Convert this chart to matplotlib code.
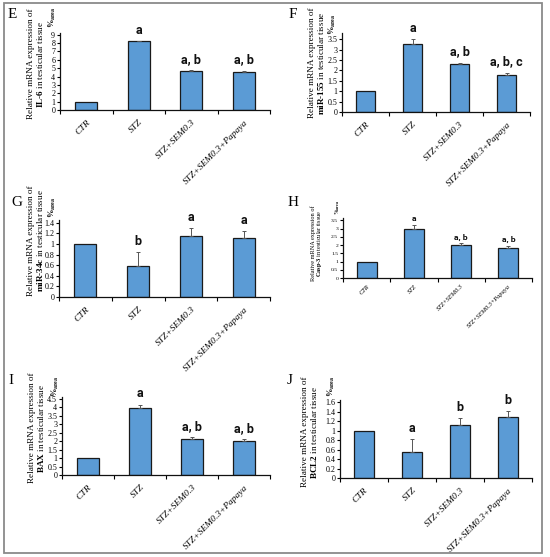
import numpy as np
import matplotlib
matplotlib.use("Agg")
import matplotlib.pyplot as plt

plt.rcParams.update({
    "font.family": "Liberation Serif",
    "mathtext.fontset": "custom",
    "mathtext.rm": "Liberation Serif",
    "mathtext.bf": "Liberation Serif:bold",
    "mathtext.it": "Liberation Serif:italic",
})

W, H = 550, 557
GROUPS = ["CTR", "STZ", "STZ+SEM0.3", "STZ+SEM0.3+Papaya"]
BAR_COL = "#5B9BD5"

# data per panel
IL6 = [1.0, 8.2, 4.7, 4.6]
IL6_ERR = [0.0, 0.05, 0.1, 0.1]
IL6_SIG = ["", "a", "a, b", "a, b"]

MIR155 = [1.0, 3.25, 2.3, 1.8]
MIR155_ERR = [0.0, 0.25, 0.08, 0.1]
MIR155_SIG = ["", "a", "a, b", "a, b, c"]

MIR34C = [1.0, 0.58, 1.15, 1.12]
MIR34C_ERR = [0.0, 0.26, 0.15, 0.12]
MIR34C_SIG = ["", "b", "a", "a"]

CASP3 = [1.0, 3.0, 2.0, 1.83]
CASP3_ERR = [0.0, 0.22, 0.1, 0.1]
CASP3_SIG = ["", "a", "a, b", "a, b"]

BAX = [1.0, 3.95, 2.1, 2.0]
BAX_ERR = [0.0, 0.2, 0.15, 0.12]
BAX_SIG = ["", "a", "a, b", "a, b"]

BCL2 = [1.0, 0.55, 1.12, 1.28]
BCL2_ERR = [0.0, 0.27, 0.15, 0.13]
BCL2_SIG = ["", "a", "b", "b"]

# layout in pixels: axes (left, right, top, bottom), ylim top, tick step,
# ylabel centre, "% area" position, panel letter position, font scale
PANELS = [
    dict(tag="E", gene="IL-6", vals=IL6, err=IL6_ERR, sig=IL6_SIG,
         box=(60, 270, 33, 110), ytop=9.2, ymax=9, step=1,
         ylab=(36, 64), pct=(52, 17), lab=(12, 15), fs=1.0),
    dict(tag="F", gene="miR-155", vals=MIR155, err=MIR155_ERR, sig=MIR155_SIG,
         box=(342, 530, 33, 112), ytop=3.8, ymax=3.5, step=0.5,
         ylab=(317, 63), pct=(332, 24), lab=(293, 15), fs=1.0),
    dict(tag="G", gene="miR-34c", vals=MIR34C, err=MIR34C_ERR, sig=MIR34C_SIG,
         box=(59, 270, 220, 297), ytop=1.45, ymax=1.4, step=0.2,
         ylab=(36, 241), pct=(52, 207), lab=(17, 202), fs=1.0),
    dict(tag="H", gene="Casp-3", vals=CASP3, err=CASP3_ERR, sig=CASP3_SIG,
         box=(343, 532, 218, 278), ytop=3.65, ymax=3.5, step=0.5,
         ylab=(317, 243), pct=(338, 207), lab=(293, 203), fs=0.68),
    dict(tag="I", gene="BAX", vals=BAX, err=BAX_ERR, sig=BAX_SIG,
         box=(62, 270, 397, 475), ytop=4.6, ymax=4.5, step=0.5,
         ylab=(37, 428), pct=(55, 386), lab=(11, 380), fs=1.0),
    dict(tag="J", gene="BCL2", vals=BCL2, err=BCL2_ERR, sig=BCL2_SIG,
         box=(340, 532, 400, 478), ytop=1.65, ymax=1.6, step=0.2,
         ylab=(310, 432), pct=(331, 386), lab=(290, 381), fs=1.0),
]


def fx(x):
    return x / W


def fy(y):
    return 1 - y / H


def bold_gene(g):
    parts = g.split("-")
    return "-".join(r"$\mathbf{%s}$" % p for p in parts)


fig = plt.figure(figsize=(W / 100, H / 100), dpi=100)

# outer frame
fig.add_artist(plt.Rectangle((fx(3.5), fy(553)), fx(542) - fx(3.5), fy(2.5) - fy(553),
                             fill=False, edgecolor="#8a8a8a", linewidth=1.3,
                             transform=fig.transFigure))

for p in PANELS:
    l, r, t, b = p["box"]
    s = p["fs"]
    ax = fig.add_axes([fx(l), fy(b), fx(r) - fx(l), fy(t) - fy(b)])
    x = np.arange(len(GROUPS))
    vals = np.array(p["vals"])
    err = np.array(p["err"])
    ax.bar(x, vals, width=0.42, color=BAR_COL, edgecolor="#1a1a1a", linewidth=0.9)
    ax.errorbar(x[1:], vals[1:], yerr=[np.zeros(3), err[1:]], fmt="none",
                ecolor="#555555", elinewidth=0.7, capsize=1.5, capthick=0.7)
    for xi, v, e, lt in zip(x, vals, err, p["sig"]):
        if lt:
            ax.annotate(lt, (xi, v + e), xytext=(0, 3 * s), textcoords="offset points",
                        ha="center", va="bottom", fontsize=9 * s,
                        family="Roboto", fontweight="bold", color="#111111")
    ax.set_xlim(-0.5, 3.5)
    ax.set_ylim(0, p["ytop"])
    ticks = np.round(np.arange(0, p["ymax"] + 1e-9, p["step"]), 3)
    ax.set_yticks(ticks)
    ax.set_yticklabels(["{:g}".format(v) for v in ticks], fontsize=5.8 * s)
    ax.set_xticks(x)
    ax.set_xticklabels(GROUPS, rotation=45, ha="right", rotation_mode="anchor",
                       fontsize=6.8 * s, style="italic")
    ax.set_xticks(np.arange(-0.5, 4.0, 1.0), minor=True)
    ax.tick_params(axis="x", which="major", length=0, pad=6 * s)
    ax.tick_params(axis="x", which="minor", length=3, width=0.8, direction="out")
    ax.tick_params(axis="y", length=2, width=0.8, direction="out", pad=1.5)
    for side in ("top", "right"):
        ax.spines[side].set_visible(False)
    for side in ("left", "bottom"):
        ax.spines[side].set_linewidth(0.9)
        ax.spines[side].set_color("#111111")

    lx, ly = p["ylab"]
    fig.text(fx(lx), fy(ly), "Relative mRNA expression of\n" + bold_gene(p["gene"])
             + " in testicular tissue", rotation=90, ha="center", va="center",
             fontsize=6.6 * s, linespacing=0.9, multialignment="center")
    px_, py_ = p["pct"]
    fig.text(fx(px_), fy(py_), r"%$_{\mathbf{area}}$", rotation=90, ha="center",
             va="center", fontsize=6 * s, fontweight="bold")
    ax_, ay_ = p["lab"]
    fig.text(fx(ax_), fy(ay_), p["tag"], ha="center", va="center", fontsize=11)

fig.savefig("out.png", dpi=100)
